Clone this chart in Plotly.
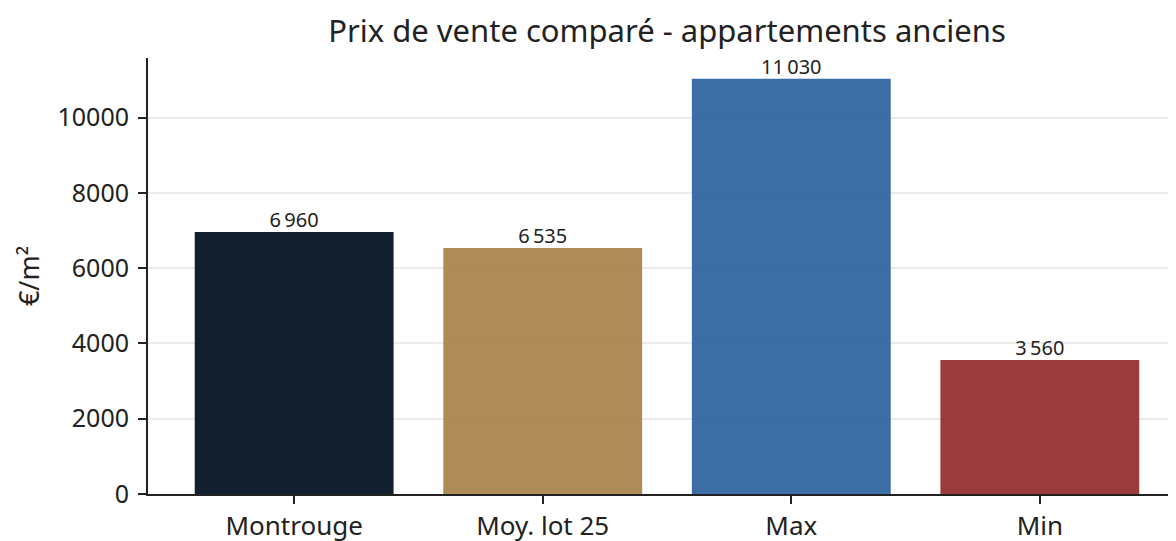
import plotly.graph_objects as go

categories = ["Montrouge", "Moy. lot 25", "Max", "Min"]
values = [6960, 6535, 11030, 3560]
colors = ["#000e1e", "#a8824a", "#2b639e", "#942c2c"]
title = "Prix de vente comparé - appartements anciens"
y_label = "€/m²"

labels = [f"{v:,}".replace(",", "\u2009") for v in values]
xs = list(range(len(categories)))

FONT = "Noto Sans"
fig = go.Figure()
fig.add_trace(go.Bar(
    x=xs,
    y=values,
    width=0.8,
    marker=dict(color=colors, line=dict(width=0), opacity=0.93),
    hoverinfo="skip",
))
fig.add_trace(go.Scatter(
    x=xs,
    y=values,
    mode="text",
    text=labels,
    textposition="top center",
    textfont=dict(family=FONT, size=20, color="#222222"),
    cliponaxis=False,
))
fig.update_layout(
    width=1176, height=541,
    margin=dict(l=140, r=0, t=50, b=55, autoexpand=False),
    paper_bgcolor="white", plot_bgcolor="white",
    showlegend=False,
    font=dict(family=FONT, color="#222222"),
    title=dict(text=title, x=659/1176, xanchor="center", y=1-23/541, yanchor="middle",
               font=dict(family=FONT, size=31, color="#222222")),
    bargap=0.2,
)
fig.update_xaxes(
    range=[-0.588, 3.58],
    tickmode="array", tickvals=xs, ticktext=categories,
    showline=True, linecolor="#222222", linewidth=2,
    ticks="outside", ticklen=8, tickwidth=2, tickcolor="#222222",
    tickfont=dict(family=FONT, size=26, color="#222222"),
    showgrid=False, zeroline=False, automargin=False,
)
fig.update_yaxes(
    range=[0, 11581],
    tickvals=[0, 2000, 4000, 6000, 8000, 10000],
    ticktext=["0", "2000", "4000", "6000", "8000", "10000"],
    showline=True, linecolor="#222222", linewidth=2,
    ticks="outside", ticklen=8, tickwidth=2, tickcolor="#222222",
    ticklabelstandoff=4,
    tickfont=dict(family=FONT, size=25, color="#222222"),
    showgrid=True, gridcolor="#ebebeb", gridwidth=1.5,
    zeroline=False, automargin=False,
    title=dict(text=y_label, font=dict(family=FONT, size=27, color="#222222"), standoff=10),
)
fig.write_html("out.html")
